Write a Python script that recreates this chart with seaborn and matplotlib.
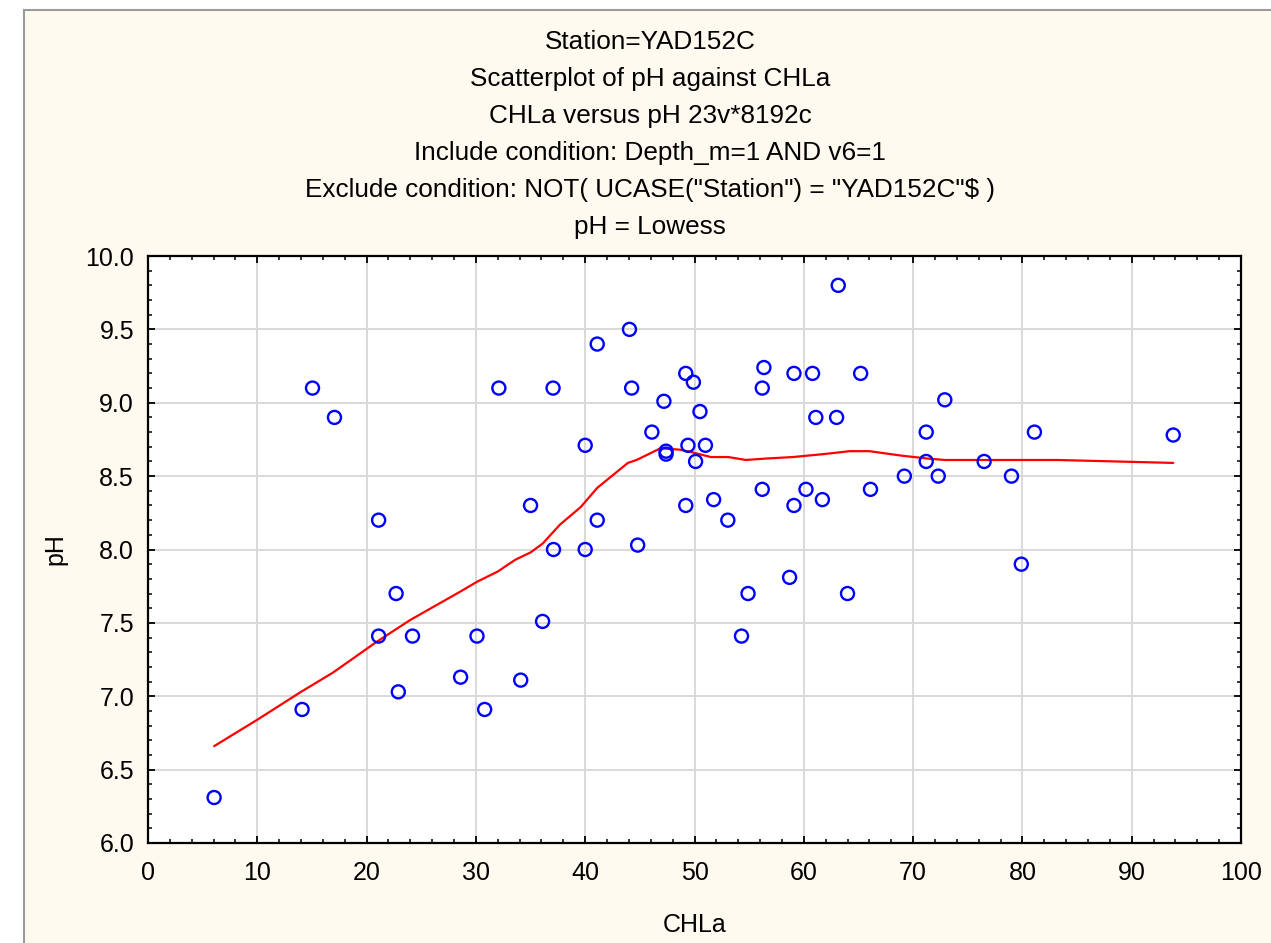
import numpy as np
import pandas as pd
import matplotlib
matplotlib.use("Agg")
import matplotlib.pyplot as plt
import seaborn as sns
from matplotlib.patches import Rectangle
from matplotlib.ticker import MultipleLocator

# observed points (CHLa, pH)
chla = [6.05, 14.1, 15.05, 17.06, 21.1, 21.1, 22.7, 22.9, 24.2, 28.6,
        30.1, 30.8, 32.1, 34.1, 35.0, 36.1, 37.06, 37.1, 40.0, 40.0,
        41.1, 41.1, 44.05, 44.25, 44.8, 46.1, 47.2, 47.4, 47.4, 49.2,
        49.4, 49.2, 49.9, 50.1, 50.5, 51.0, 51.75, 53.05, 54.3, 54.9,
        56.2, 56.35, 56.2, 58.7, 59.1, 59.1, 60.2, 60.8, 61.1, 61.7,
        63.15, 63.0, 64.0, 65.2, 66.1, 69.2, 71.2, 71.2, 72.3, 72.9,
        76.5, 79.0, 79.9, 81.1, 93.8]
ph = [6.31, 6.91, 9.10, 8.90, 8.20, 7.41, 7.70, 7.03, 7.41, 7.13,
      7.41, 6.91, 9.10, 7.11, 8.30, 7.51, 9.10, 8.00, 8.71, 8.00,
      9.40, 8.20, 9.50, 9.10, 8.03, 8.80, 9.01, 8.67, 8.65, 9.20,
      8.71, 8.30, 9.14, 8.60, 8.94, 8.71, 8.34, 8.20, 7.41, 7.70,
      8.41, 9.24, 9.10, 7.81, 9.20, 8.30, 8.41, 9.20, 8.90, 8.34,
      9.80, 8.90, 7.70, 9.20, 8.41, 8.50, 8.80, 8.60, 8.50, 9.02,
      8.60, 8.50, 7.90, 8.80, 8.78]

# lowess curve as drawn
lowess_x = [6.05, 10.0, 14.0, 16.9, 20.9, 24.0, 28.5, 30.1, 32.0, 33.6,
            35.0, 36.1, 37.7, 39.6, 41.1, 43.9, 44.7, 46.9, 48.7, 49.9,
            51.5, 53.1, 54.7, 56.6, 59.0, 61.8, 64.2, 66.0, 68.9, 71.3,
            72.9, 79.3, 83.2, 93.8]
lowess_y = [6.66, 6.84, 7.03, 7.16, 7.37, 7.52, 7.71, 7.78, 7.85, 7.93,
            7.98, 8.04, 8.17, 8.29, 8.42, 8.59, 8.61, 8.69, 8.68, 8.66,
            8.63, 8.63, 8.61, 8.62, 8.63, 8.65, 8.67, 8.67, 8.64, 8.62,
            8.61, 8.61, 8.61, 8.59]

title_lines = [
    "Station=YAD152C",
    "Scatterplot of pH against CHLa",
    "CHLa versus pH 23v*8192c",
    "Include condition: Depth_m=1 AND v6=1",
    'Exclude condition: NOT( UCASE("Station") = "YAD152C"$ )',
    "pH = Lowess",
]

sns.set_style("white")
plt.rcParams["font.family"] = ["Liberation Sans", "DejaVu Sans"]
plt.rcParams.update({"text.color": "black", "axes.labelcolor": "black",
                     "xtick.color": "black", "ytick.color": "black"})

W, H = 1271, 943
fig = plt.figure(figsize=(W / 100, H / 100), dpi=100, facecolor="white")

# cream panel with grey frame
fig.patches.append(Rectangle((24 / W, -0.05), 1.2, (H - 10) / H + 0.05,
                             transform=fig.transFigure, facecolor="#FFFAEF",
                             edgecolor="#9A9A9A", linewidth=1.5, zorder=-10))

ax = fig.add_axes([148 / W, (H - 843) / H, (1241 - 148) / W, (843 - 256) / H])
ax.set_zorder(2)
ax.set_facecolor("white")

df_pts = pd.DataFrame({"CHLa": chla, "pH": ph})
df_line = pd.DataFrame({"CHLa": lowess_x, "pH": lowess_y})

sns.lineplot(data=df_line, x="CHLa", y="pH", color="red", linewidth=1.6,
             sort=False, estimator=None, ax=ax, zorder=3)
sns.scatterplot(data=df_pts, x="CHLa", y="pH", marker="o", s=88,
                facecolor="none", edgecolor="blue", linewidth=1.7, ax=ax, zorder=4)

ax.set_xlim(0, 100)
ax.set_ylim(6.0, 10.0)
ax.xaxis.set_major_locator(MultipleLocator(10))
ax.xaxis.set_minor_locator(MultipleLocator(2))
ax.yaxis.set_major_locator(MultipleLocator(0.5))
ax.yaxis.set_minor_locator(MultipleLocator(0.1))
ax.yaxis.set_major_formatter(matplotlib.ticker.FormatStrFormatter("%.1f"))

ax.grid(True, which="major", color="#D9D9D9", linewidth=1.4, zorder=1)
ax.set_axisbelow(True)
for sp in ax.spines.values():
    sp.set_color("black")
    sp.set_linewidth(1.6)

ax.tick_params(which="both", direction="in", top=True, right=True,
               bottom=True, left=True, colors="black", labelsize=18)
ax.tick_params(which="major", length=5, width=1.3)
ax.tick_params(which="minor", length=3, width=1.1)
ax.tick_params(axis="x", which="major", pad=13)
ax.tick_params(axis="y", which="major", pad=10)

ax.set_xlabel("CHLa", fontsize=18, labelpad=20)
ax.set_ylabel("pH", fontsize=18, labelpad=13)

title_y = [42, 79, 116, 153, 190, 227]
for line, yp in zip(title_lines, title_y):
    fig.text(650 / W, 1 - yp / H, line, ha="center", va="center", fontsize=18.8)

fig.savefig("out.png", dpi=100, facecolor=fig.get_facecolor())
